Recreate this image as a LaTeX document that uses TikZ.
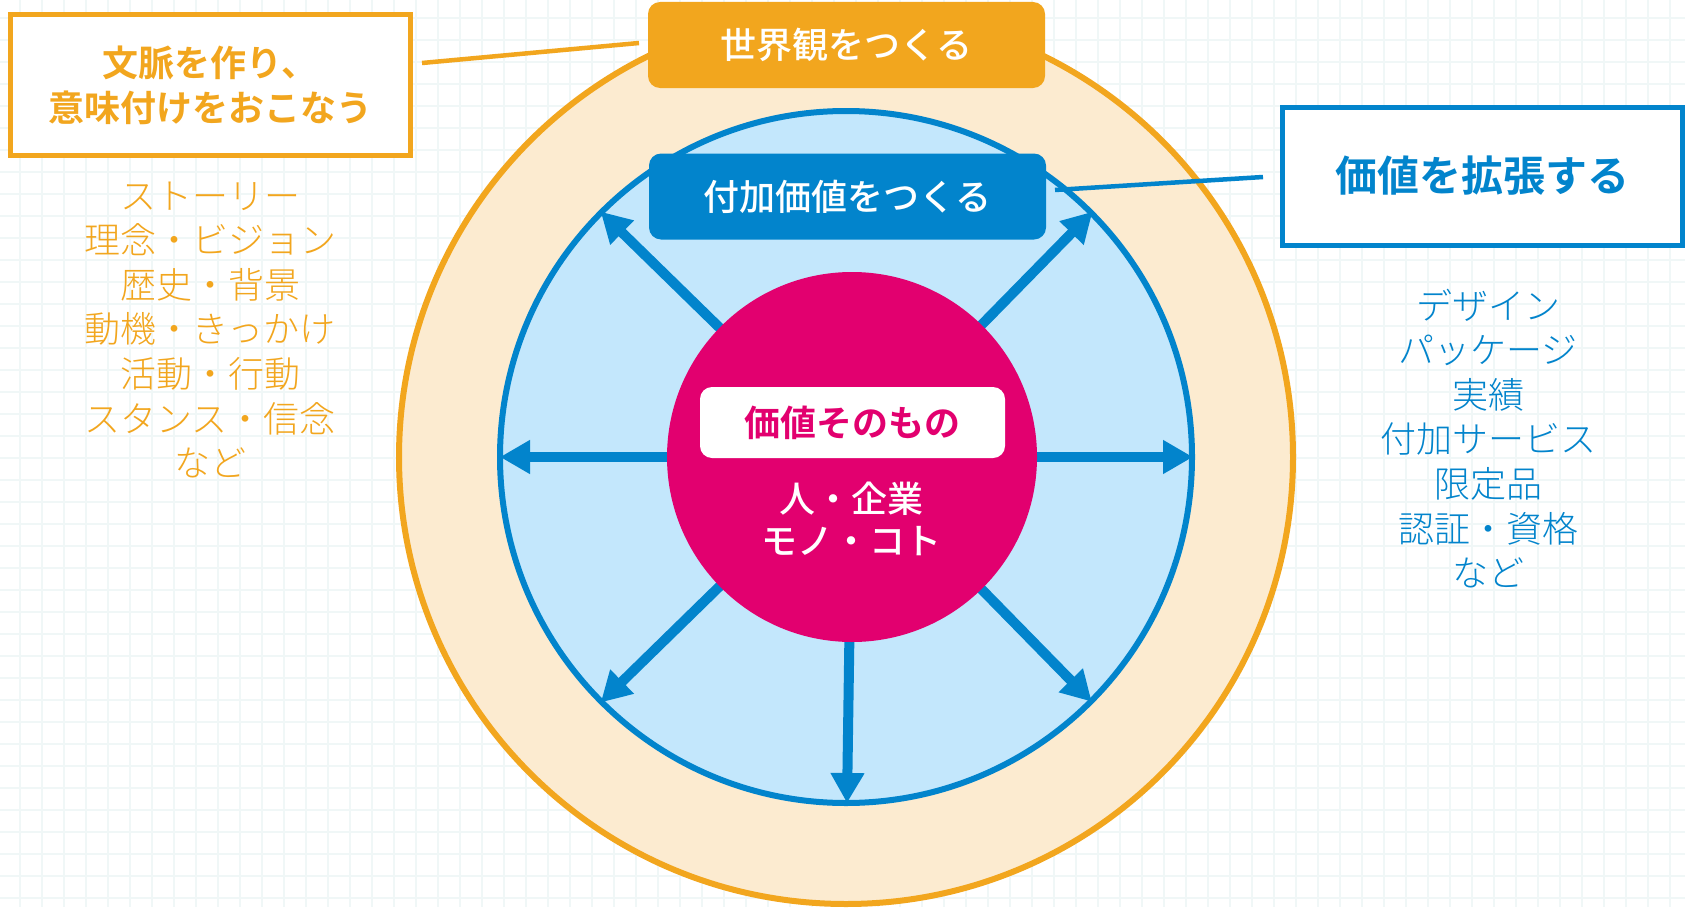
\documentclass[tikz,border=0pt]{standalone}
\usepackage{fontspec}
\setmainfont{Noto Sans CJK JP}
\newfontfamily\jplight{Noto Sans CJK JP Light}
\newfontfamily\jpmed{Noto Sans CJK JP Medium}
\newfontfamily\jpbold{Noto Sans CJK JP Bold}
\usetikzlibrary{arrows.meta}
\definecolor{gridc}{HTML}{F0F7F7}
\definecolor{orng}{HTML}{F2A61E}
\definecolor{orngfill}{HTML}{FCEBD0}
\definecolor{bluec}{HTML}{0284CC}
\definecolor{bluefill}{HTML}{C3E7FC}
\definecolor{pinkc}{HTML}{E2006F}
\tikzset{
  arr/.style={draw=bluec, line width=10pt, -{Triangle[length=30pt,width=32pt]}},
  titlebox/.style={rounded corners=12pt, minimum width=397pt, minimum height=86pt, inner sep=0pt,
     text=white, font=\fontsize{36pt}{40pt}\selectfont\jpmed},
  framebox/.style={draw, line width=5pt, fill=white, inner sep=0pt, align=center},
  listtext/.style={align=center, font=\fontsize{36pt}{44.6pt}\selectfont\jplight, inner sep=0pt},
  conn/.style={line width=4.5pt},
}
\begin{document}
\begin{tikzpicture}[x=1pt,y=-1pt]
\useasboundingbox (0,0) rectangle (1685,907);
\fill[white] (0,0) rectangle (1685,907);
\begin{scope}
\clip (0,0) rectangle (1685,907);
\foreach \i in {0,...,76} \draw[gridc, line width=2pt] ({19.7+22*\i},0) -- ++(0,907);
\foreach \j in {0,...,41} \draw[gridc, line width=2pt] (0,{17.7+22*\j}) -- ++(1685,0);
% circles
\node[circle, draw=orng, fill=orngfill, line width=6pt, minimum size=894pt, inner sep=0pt] (outer) at (846,457) {};
\end{scope}
\node[circle, draw=bluec, fill=bluefill, line width=6pt, minimum size=692pt, inner sep=0pt] (inner) at (846,457) {};
% arrow targets
\coordinate (pc) at (852,457);
\coordinate (tL) at (500,457);
\coordinate (tR) at (1193,457);
\coordinate (tD) at (847,803);
\coordinate (tUL) at (600.7,211.7);
\coordinate (tUR) at (1092.5,211.7);
\coordinate (tDL) at (600.7,702.5);
\coordinate (tDR) at (1091.7,701.7);
\foreach \t in {tL,tR,tD,tUL,tUR,tDL,tDR} \draw[arr] (pc) -- (\t);
% core
\node[circle, fill=pinkc, minimum size=370pt, inner sep=0pt] (core) at (852,457) {};
\node[fill=white, rounded corners=12pt, minimum width=305pt, minimum height=71pt, inner sep=0pt,
  text=pinkc, font=\fontsize{36pt}{40pt}\selectfont\jpbold] (kachi) at (852.5,422.5) {価値そのもの};
\node[align=center, text=white, inner sep=0pt, font=\fontsize{36pt}{42pt}\selectfont\jpmed] (mono) at (851,519) {人・企業\\モノ・コト};
% title boxes
\node[titlebox, fill=orng] (sekai) at (846.5,45) {世界観をつくる};
\node[titlebox, fill=bluec] (fuka) at (847.5,196.5) {付加価値をつくる};
% side boxes
\node[framebox, draw=orng, text=orng, minimum width=400pt, minimum height=140pt,
  font=\fontsize{36pt}{45pt}\selectfont\jpbold] (bunmyaku) at (210,85) {文脈を作り、\\意味付けをおこなう};
\node[framebox, draw=bluec, text=bluec, minimum width=400pt, minimum height=138pt,
  font=\fontsize{42pt}{48pt}\selectfont\jpbold] (kakucho) at (1482,176) {価値を拡張する};
% connectors
\coordinate (c1a) at (422,63);
\coordinate (c1b) at (639,43);
\coordinate (c2a) at (1055,190);
\coordinate (c2b) at (1263,177);
\draw[conn, orng] (c1a) -- (c1b);
\draw[conn, bluec] (c2a) -- (c2b);
% lists
\node[listtext, text=orng] (llist) at (210,330) {ストーリー\\理念・ビジョン\\歴史・背景\\動機・きっかけ\\活動・行動\\スタンス・信念\\など};
\node[listtext, text=bluec] (rlist) at (1488,438.5) {デザイン\\パッケージ\\実績\\付加サービス\\限定品\\認証・資格\\など};
\end{tikzpicture}
\end{document}
